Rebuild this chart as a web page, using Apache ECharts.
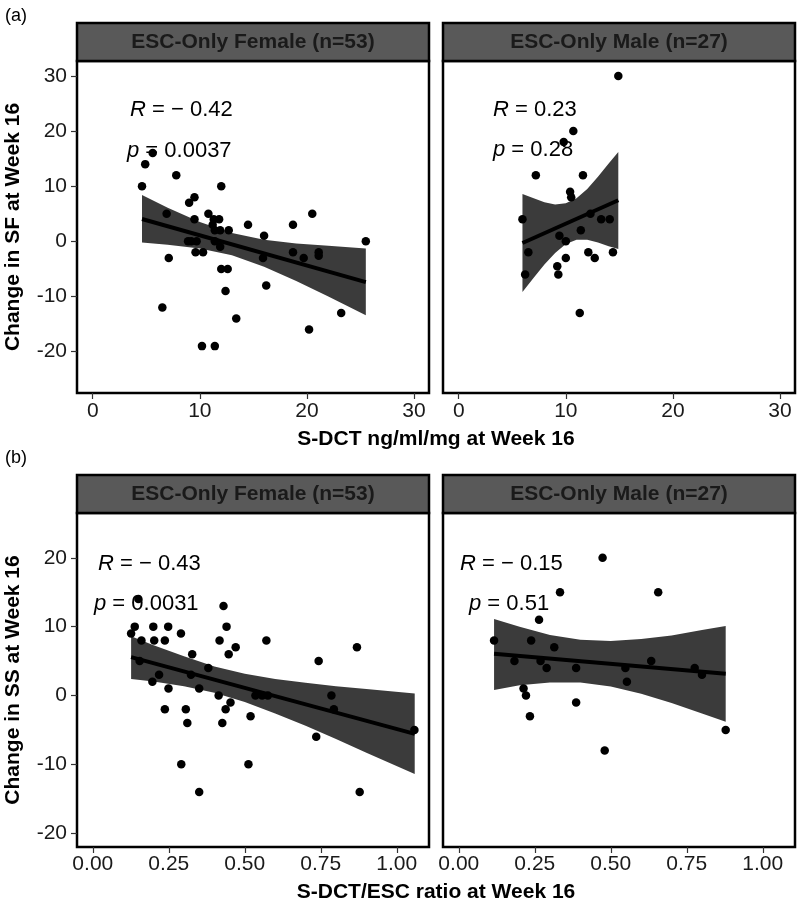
<!DOCTYPE html>
<html>
<head>
<meta charset="utf-8">
<script src="https://cdn.jsdelivr.net/npm/echarts@6/dist/echarts.min.js"></script>
<style>
  html, body { margin: 0; padding: 0; background: #fff; }
  #main { width: 800px; height: 904px; }
</style>
</head>
<body>
<div id="main"></div>
<script>
// (a) S-DCT ng/ml/mg vs change in SF
var sfFemaleX = [5.6, 4.9, 4.6, 7.8, 12.0, 9.5, 9.0, 6.9, 10.8, 9.5, 11.3, 11.8, 11.2, 14.5, 18.7, 20.5, 11.4, 11.9, 12.7, 16.0,
  8.9, 9.2, 9.7, 11.4, 25.5, 11.9, 9.6, 10.3, 18.7, 21.1, 21.1, 19.7, 15.9, 7.1, 12.0, 12.6, 16.2, 12.4, 6.5, 23.2, 13.4, 20.2, 10.2, 11.4];
var sfFemaleY = [16, 14, 10, 12, 10, 8, 7, 5, 5, 4, 4, 4, 3, 3, 3, 5, 2, 2, 2, 1,
  0, 0, 0, 0, 0, -1, -2, -2, -2, -2, -2.6, -3, -3, -3, -5, -5, -8, -9, -12, -13, -14, -16, -19, -19];
var sfMaleX = [14.9, 10.7, 9.8, 7.2, 11.6, 10.4, 10.5, 5.95, 12.3, 13.3, 14.1, 11.4, 9.4, 10.0, 6.5, 12.1, 12.7, 14.4, 10.0, 9.2, 9.3, 6.2, 11.3];
var sfMaleY = [30, 20, 18, 12, 12, 9, 8, 4, 5, 4, 4, 2, 1, 0, -2, -2, -3, -2, -3, -4.5, -6, -6, -13];

var sfFemaleFitX = [4.6, 25.5];
var sfFemaleFitY = [4.05, -7.4];
var sfFemaleBandX = [4.6, 7, 10, 13, 16, 19, 22, 25.5];
var sfFemaleBandHi = [8.4, 6.1, 3.5, 1.5, 0.3, -0.4, -0.8, -1.3];
var sfFemaleBandLo = [-0.2, -0.6, -1.3, -2.5, -4.6, -7.2, -10.0, -13.4];

var sfMaleFitX = [5.95, 14.9];
var sfMaleFitY = [-0.3, 7.45];
var sfMaleBandX = [5.95, 7, 8, 9, 10, 11, 12, 13, 14, 14.9];
var sfMaleBandHi = [8.6, 7.8, 7.1, 6.7, 6.9, 7.8, 9.5, 11.7, 14.1, 16.2];
var sfMaleBandLo = [-9.2, -6.6, -4.2, -2.1, -0.5, 0.3, 0.3, -0.2, -0.9, -1.4];

// (b) S-DCT/ESC ratio vs change in SS
var ssFemaleX = [0.126, 0.138, 0.150, 0.160, 0.154, 0.199, 0.202, 0.237, 0.248, 0.290, 0.327, 0.196, 0.218, 0.249, 0.237, 0.323,
  0.350, 0.380, 0.306, 0.311, 0.291, 0.350, 0.430, 0.440, 0.417, 0.470, 0.447, 0.414, 0.453, 0.437, 0.426, 0.519, 0.512,
  0.571, 0.535, 0.557, 0.576, 0.743, 0.735, 0.785, 0.793, 0.869, 0.878, 1.058];
var ssFemaleY = [9, 10, 14, 8, 5, 10, 8, 8, 10, 9, 6, 2, 3, 1, -2, 3,
  1, 4, -2, -4, -10, -14, 13, 10, 8, 7, 6, 0, -1, -2, -4, -3, -10,
  8, 0, 0, 0, 5, -6, 0, -2, 7, -14, -5];
var ssMaleX = [0.473, 0.333, 0.656, 0.264, 0.116, 0.238, 0.314, 0.183, 0.269, 0.289, 0.386, 0.548, 0.633, 0.776, 0.800,
  0.553, 0.213, 0.221, 0.234, 0.386, 0.480, 0.878];
var ssMaleY = [20, 15, 15, 11, 8, 8, 7, 5, 5, 4, 4, 4, 5, 4, 3, 2, 1, 0, -3, -1, -8, -5];

var ssFemaleFitX = [0.126, 1.059];
var ssFemaleFitY = [5.57, -5.57];
var ssFemaleBandX = [0.126, 0.2, 0.3, 0.4, 0.5, 0.6, 0.7, 0.8, 0.9, 1.059];
var ssFemaleBandHi = [8.6, 7.3, 5.7, 4.2, 3.15, 2.4, 1.85, 1.35, 0.95, 0.3];
var ssFemaleBandLo = [2.4, 2.05, 1.35, 0.4, -0.95, -2.6, -4.4, -6.3, -8.3, -11.4];

var ssMaleFitX = [0.116, 0.878];
var ssMaleFitY = [6.05, 3.15];
var ssMaleBandX = [0.116, 0.2, 0.3, 0.4, 0.5, 0.6, 0.7, 0.8, 0.878];
var ssMaleBandHi = [11.1, 10.0, 8.8, 8.1, 7.9, 8.2, 8.7, 9.5, 10.1];
var ssMaleBandLo = [0.8, 1.5, 1.9, 1.9, 1.3, 0.25, -1.1, -2.6, -3.8];

var sfTicksX = [0, 10, 20, 30];
var sfTicksY = [-20, -10, 0, 10, 20, 30];
var ssTicksX = [0, 0.25, 0.5, 0.75, 1.0];
var ssTicksY = [-20, -10, 0, 10, 20];

var FONT = 'Liberation Sans';
var myChart = echarts.init(document.getElementById('main'));

function zip(xs, ys) {
    var out = [];
    for (var i = 0; i < xs.length; i++) out.push([xs[i], ys[i]]);
    return out;
}

function xAxisOf(idx, min, max, ticks, fmt, margin) {
    return {
        type: 'value', gridIndex: idx, min: min, max: max, position: 'bottom',
        axisLine: { show: false, onZero: false },
        splitLine: { show: false },
        axisTick: { show: true, length: 6, customValues: ticks, lineStyle: { color: '#333', width: 1.2 } },
        axisLabel: { customValues: ticks, margin: margin, color: '#1a1a1a', fontSize: 21, fontFamily: FONT, formatter: fmt }
    };
}

function yAxisOf(idx, min, max, ticks, showLabels) {
    return {
        type: 'value', gridIndex: idx, min: min, max: max, position: 'left',
        axisLine: { show: false, onZero: false },
        splitLine: { show: false },
        axisTick: { show: showLabels, length: 6, customValues: ticks, lineStyle: { color: '#333', width: 1.2 } },
        axisLabel: { show: showLabels, customValues: ticks, margin: 10, color: '#1a1a1a', fontSize: 21, fontFamily: FONT }
    };
}

function bandSeries(idx, bx, hi, lo) {
    return {
        type: 'custom', xAxisIndex: idx, yAxisIndex: idx, z: 2, silent: true, clip: true,
        data: [[bx[0], hi[0]]],
        renderItem: function (params, api) {
            var pts = [];
            for (var i = 0; i < bx.length; i++) pts.push(api.coord([bx[i], hi[i]]));
            for (var j = bx.length - 1; j >= 0; j--) pts.push(api.coord([bx[j], lo[j]]));
            return { type: 'polygon', shape: { points: pts }, style: { fill: '#3b3b3b' } };
        }
    };
}

function fitSeries(idx, fx, fy) {
    return {
        type: 'line', xAxisIndex: idx, yAxisIndex: idx, z: 3, silent: true,
        data: zip(fx, fy), symbol: 'none',
        lineStyle: { color: '#000', width: 4 }
    };
}

function pointSeries(idx, px, py) {
    return {
        type: 'scatter', xAxisIndex: idx, yAxisIndex: idx, z: 4, silent: true,
        data: zip(px, py), symbolSize: 8.5,
        itemStyle: { color: '#000', opacity: 1 }
    };
}

function strip(x, y, text) {
    return [
        { type: 'rect', shape: { x: x, y: y, width: 352, height: 38 }, style: { fill: '#595959', stroke: '#000', lineWidth: 2.5 }, z: 10 },
        { type: 'text', x: x + 176, y: y + 19, style: { text: text, fontSize: 21, fontWeight: 'bold', fontFamily: FONT, fill: '#1a1a1a', align: 'center', verticalAlign: 'middle' }, z: 11 }
    ];
}

function stat(x, y, sym, val) {
    return {
        type: 'text', x: x, y: y, z: 12,
        style: {
            text: '{i|' + sym + '} = ' + val,
            fontSize: 22, fontFamily: FONT, fill: '#000', align: 'left', verticalAlign: 'middle',
            rich: { i: { fontStyle: 'italic', fontSize: 22, fontFamily: FONT, fill: '#000' } }
        }
    };
}

var grids = [
    { left: 77, top: 61, width: 352, height: 332 },
    { left: 443, top: 61, width: 352, height: 332 },
    { left: 77, top: 513, width: 352, height: 334 },
    { left: 443, top: 513, width: 352, height: 334 }
].map(function (g) {
    g.show = true; g.borderColor = '#000'; g.borderWidth = 2.5; g.backgroundColor = '#fff';
    return g;
});

var fmt2 = function (v) { return v.toFixed(2); };

option = {
    backgroundColor: '#fff',
    animation: false,
    grid: grids,
    xAxis: [
        xAxisOf(0, -1.47, 31.4, sfTicksX, null, 8),
        xAxisOf(1, -1.47, 31.4, sfTicksX, null, 8),
        xAxisOf(2, -0.052, 1.106, ssTicksX, fmt2, 7),
        xAxisOf(3, -0.052, 1.106, ssTicksX, fmt2, 7)
    ],
    yAxis: [
        yAxisOf(0, -27.5, 32.7, sfTicksY, true),
        yAxisOf(1, -27.5, 32.7, sfTicksY, false),
        yAxisOf(2, -22.0, 26.5, ssTicksY, true),
        yAxisOf(3, -22.0, 26.5, ssTicksY, false)
    ],
    series: [
        bandSeries(0, sfFemaleBandX, sfFemaleBandHi, sfFemaleBandLo),
        fitSeries(0, sfFemaleFitX, sfFemaleFitY),
        pointSeries(0, sfFemaleX, sfFemaleY),
        bandSeries(1, sfMaleBandX, sfMaleBandHi, sfMaleBandLo),
        fitSeries(1, sfMaleFitX, sfMaleFitY),
        pointSeries(1, sfMaleX, sfMaleY),
        bandSeries(2, ssFemaleBandX, ssFemaleBandHi, ssFemaleBandLo),
        fitSeries(2, ssFemaleFitX, ssFemaleFitY),
        pointSeries(2, ssFemaleX, ssFemaleY),
        bandSeries(3, ssMaleBandX, ssMaleBandHi, ssMaleBandLo),
        fitSeries(3, ssMaleFitX, ssMaleFitY),
        pointSeries(3, ssMaleX, ssMaleY)
    ],
    graphic: [].concat(
        strip(77, 23, 'ESC-Only Female (n=53)'),
        strip(443, 23, 'ESC-Only Male (n=27)'),
        strip(77, 475, 'ESC-Only Female (n=53)'),
        strip(443, 475, 'ESC-Only Male (n=27)'),
        [
            { type: 'text', x: 5, y: 16, style: { text: '(a)', fontSize: 18, fontFamily: FONT, fill: '#000', verticalAlign: 'middle' } },
            { type: 'text', x: 5, y: 458, style: { text: '(b)', fontSize: 18, fontFamily: FONT, fill: '#000', verticalAlign: 'middle' } },
            { type: 'text', x: 436, y: 439, style: { text: 'S-DCT ng/ml/mg at Week 16', fontSize: 21, fontWeight: 'bold', fontFamily: FONT, fill: '#000', align: 'center', verticalAlign: 'middle' } },
            { type: 'text', x: 436, y: 892, style: { text: 'S-DCT/ESC ratio at Week 16', fontSize: 21, fontWeight: 'bold', fontFamily: FONT, fill: '#000', align: 'center', verticalAlign: 'middle' } },
            { type: 'text', x: 13, y: 227, rotation: Math.PI / 2, style: { text: 'Change in SF at Week 16', fontSize: 21, fontWeight: 'bold', fontFamily: FONT, fill: '#000', align: 'center', verticalAlign: 'middle' } },
            { type: 'text', x: 13, y: 680, rotation: Math.PI / 2, style: { text: 'Change in SS at Week 16', fontSize: 21, fontWeight: 'bold', fontFamily: FONT, fill: '#000', align: 'center', verticalAlign: 'middle' } },
            stat(130, 110, 'R', '\u2212 0.42'),
            stat(127, 151, 'p', '0.0037'),
            stat(493, 110, 'R', '0.23'),
            stat(493, 150, 'p', '0.28'),
            stat(98, 564, 'R', '\u2212 0.43'),
            stat(94, 604, 'p', '0.0031'),
            stat(460, 564, 'R', '\u2212 0.15'),
            stat(469, 604, 'p', '0.51')
        ]
    )
};
myChart.setOption(option);
</script>
</body>
</html>
